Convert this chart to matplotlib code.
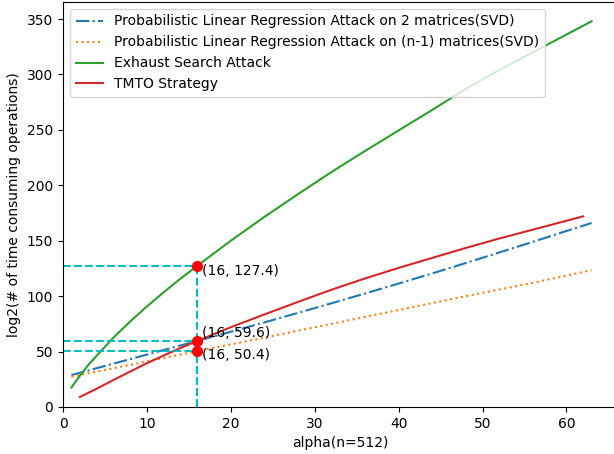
import matplotlib
matplotlib.use("Agg")
import matplotlib.pyplot as plt

# values
x_blue = [1, 4, 8, 12, 16, 20, 24, 28, 32, 36, 40, 44, 48, 52, 56, 60, 63]
y_blue = [28.8, 35.0, 43.2, 51.4, 59.6, 67.9, 76.3, 84.9, 93.6, 102.4, 111.4,
          120.5, 129.9, 139.4, 149.0, 158.8, 166.0]

x_orange = [1, 8, 16, 24, 32, 40, 48, 56, 63]
y_orange = [27.3, 38.0, 50.4, 62.6, 75.0, 87.5, 100.0, 112.0, 123.5]

x_green = [1, 2, 3, 4, 6, 8, 10, 12, 14, 16, 20, 24, 28, 32, 36, 40, 44, 48,
           52, 56, 60, 63]
y_green = [17.5, 28.0, 37.8, 46.1, 62.5, 77.1, 90.7, 103.5, 115.8, 127.4, 150.0,
           171.5, 192.0, 212.0, 231.0, 249.5, 268.0, 287.0, 304.0, 320.0, 336.0,
           348.0]

x_red = [2, 4, 6, 8, 10, 12, 14, 16, 20, 24, 28, 32, 36, 40, 44, 48, 52, 56, 60, 62]
y_red = [9.0, 16.5, 24.3, 32.0, 39.5, 46.5, 53.2, 59.6, 72.0, 83.5, 94.8, 105.8,
         116.0, 125.5, 134.5, 143.5, 152.0, 160.0, 168.0, 172.0]

labels = ["Probabilistic Linear Regression Attack on 2 matrices(SVD)",
          "Probabilistic Linear Regression Attack on (n-1) matrices(SVD)",
          "Exhaust Search Attack",
          "TMTO Strategy"]

mark_x = 16
mark_y = [127.4, 59.6, 50.4]
mark_dy = [-5, 8, -4]   # label offsets in pixels

fig = plt.figure(figsize=(6.14, 4.54), dpi=100)
# the right edge of the axes runs off the canvas, as in the reference
ax = fig.add_axes([63 / 614, 47 / 454, 555 / 614, 405 / 454])

ax.plot(x_blue, y_blue, "-.", color="C0", label=labels[0])
ax.plot(x_orange, y_orange, ":", color="C1", label=labels[1])
ax.plot(x_green, y_green, "-", color="C2", label=labels[2])
ax.plot(x_red, y_red, "-", color="C3", label=labels[3])

for y, dy in zip(mark_y, mark_dy):
    ax.plot([0, mark_x], [y, y], "c--")
    ax.plot([mark_x, mark_x], [0, y], "c--")
    ax.plot(mark_x, y, "ro", markersize=7)
    ax.annotate(f"({mark_x}, {y})", (mark_x, y), xytext=(5, dy),
                textcoords="offset pixels", va="center")

ax.set_xlim(left=0)
ax.set_ylim(bottom=0)
ax.spines["right"].set_visible(False)
ax.set_xlabel("alpha(n=512)")
ax.set_ylabel("log2(# of time consuming operations)")
ax.legend(loc="upper left")

fig.savefig("out.png", dpi=100)
